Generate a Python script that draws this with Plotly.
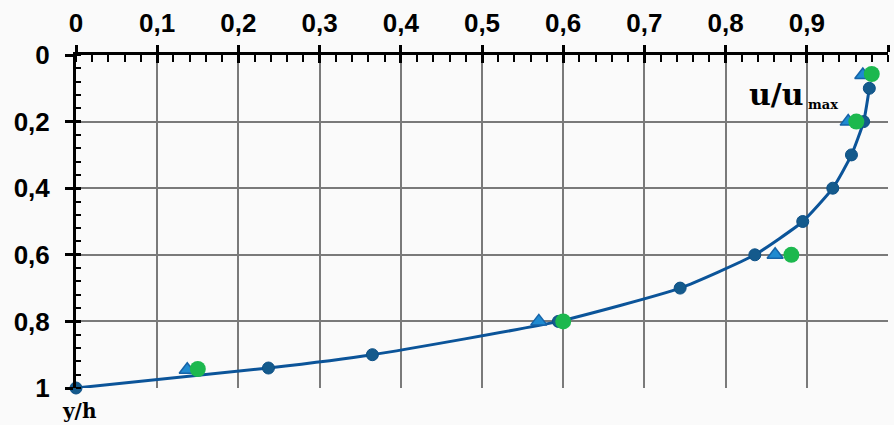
import plotly.graph_objects as go

# Velocity profile: relative velocity u/umax against relative depth y/h
calc_u = [0, 0.237, 0.365, 0.594, 0.744, 0.836, 0.895, 0.932, 0.955, 0.970, 0.977]
calc_y = [1, 0.94, 0.90, 0.80, 0.70, 0.60, 0.50, 0.40, 0.30, 0.20, 0.10]

meas1_u = [0.137, 0.570, 0.861, 0.951, 0.969]
meas1_y = [0.945, 0.80, 0.60, 0.20, 0.06]

meas2_u = [0.150, 0.600, 0.881, 0.961, 0.980]
meas2_y = [0.943, 0.80, 0.60, 0.20, 0.057]

x_ticks = [0, 0.1, 0.2, 0.3, 0.4, 0.5, 0.6, 0.7, 0.8, 0.9, 1]
x_labels = ["0", "0,1", "0,2", "0,3", "0,4", "0,5", "0,6", "0,7", "0,8", "0,9", "1"]
y_ticks = [0, 0.2, 0.4, 0.6, 0.8, 1]
y_labels = ["0", "0,2", "0,4", "0,6", "0,8", "1"]

BG = "#fafafa"
GRID = "#7a7a7a"
tick_font = dict(family="Liberation Sans, Arial", size=26, color="black")


def bold(labels):
    return ["<b>%s</b>" % s for s in labels]


fig = go.Figure()

fig.add_trace(go.Scatter(
    x=calc_u, y=calc_y, mode="lines+markers", cliponaxis=False,
    line=dict(color="#0b5499", width=3, shape="spline", smoothing=0.5),
    marker=dict(size=12, color="#145a8c", line=dict(color="#0b4f86", width=1)),
    showlegend=False,
))
fig.add_trace(go.Scatter(
    x=meas1_u, y=meas1_y, mode="markers", cliponaxis=False,
    marker=dict(symbol="triangle-up", size=14, color="#1f8ad0",
                line=dict(color="#1663a8", width=1.5)),
    showlegend=False,
))
fig.add_trace(go.Scatter(
    x=meas2_u, y=meas2_y, mode="markers", cliponaxis=False,
    marker=dict(size=16, color="#1cb84e", line=dict(width=0)),
    showlegend=False,
))
# empty trace that anchors the overlay axes carrying the inner halves of major ticks
fig.add_trace(go.Scatter(x=[], y=[], xaxis="x2", yaxis="y2", showlegend=False))

fig.update_layout(
    width=894, height=425,
    margin=dict(l=76, r=6, t=55, b=37),
    paper_bgcolor=BG, plot_bgcolor=BG,
    xaxis=dict(
        side="top", range=[0, 1], tickvals=x_ticks, ticktext=bold(x_labels),
        showgrid=True, gridcolor=GRID, gridwidth=2,
        showline=True, linecolor="black", linewidth=3,
        ticks="outside", ticklen=7, tickwidth=3, tickcolor="black",
        minor=dict(dtick=0.02, ticks="inside", ticklen=7, tickwidth=2,
                   tickcolor="black", showgrid=False),
        tickfont=tick_font, ticklabelstandoff=3, zeroline=False,
    ),
    yaxis=dict(
        range=[1, 0], tickvals=y_ticks, ticktext=bold(y_labels),
        showgrid=True, gridcolor=GRID, gridwidth=2,
        showline=True, linecolor="black", linewidth=3,
        ticks="outside", ticklen=8, tickwidth=3, tickcolor="black",
        minor=dict(dtick=0.04, ticks="inside", ticklen=5, tickwidth=2,
                   tickcolor="black", showgrid=False),
        tickfont=tick_font, ticklabelstandoff=10, zeroline=False,
    ),
    xaxis2=dict(
        overlaying="x", matches="x", side="top", range=[0, 1], tickvals=x_ticks,
        showgrid=False, showline=False, zeroline=False, showticklabels=False,
        ticks="inside", ticklen=8, tickwidth=3, tickcolor="black",
    ),
    yaxis2=dict(
        overlaying="y", matches="y", range=[1, 0], tickvals=y_ticks,
        showgrid=False, showline=False, zeroline=False, showticklabels=False,
        ticks="inside", ticklen=5, tickwidth=3, tickcolor="black",
    ),
)

serif = "DejaVu Serif"
fig.add_annotation(xref="paper", yref="paper", x=0.826, y=0.823, xanchor="left",
                   yanchor="bottom", showarrow=False,
                   text="<b>u/u</b>", font=dict(family=serif, size=30, color="black"))
fig.add_annotation(xref="paper", yref="paper", x=0.899, y=0.822, xanchor="left",
                   yanchor="bottom", showarrow=False,
                   text="<b>max</b>", font=dict(family=serif, size=13, color="black"))
fig.add_annotation(xref="paper", yref="paper", x=0.004, y=-0.07, xanchor="center",
                   yanchor="middle", showarrow=False,
                   text="<b>y/h</b>", font=dict(family=serif, size=20, color="black"))

fig.write_html("out.html")
